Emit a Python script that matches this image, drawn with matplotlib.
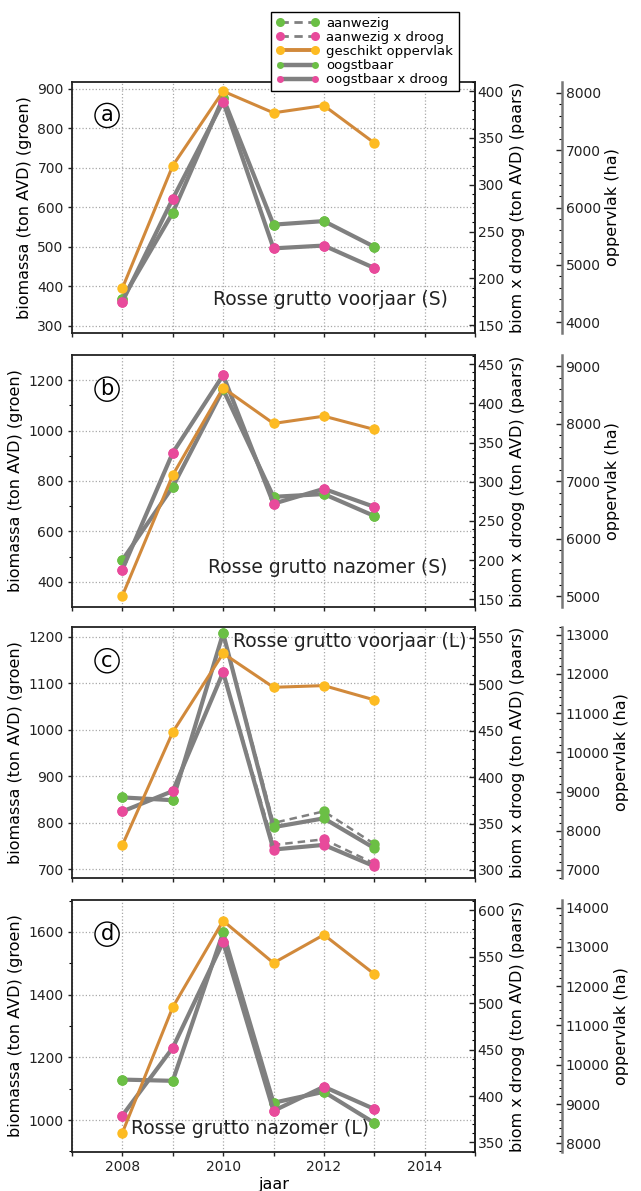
import numpy as np
import matplotlib.pyplot as plt
from matplotlib.lines import Line2D
from matplotlib.ticker import MultipleLocator, FuncFormatter

plt.rcParams['font.family'] = ['DejaVu Sans']

# 1. Gegevens
jaren = [2008, 2009, 2010, 2011, 2012, 2013]

# (a) Rosse grutto voorjaar (S)
opp_a = [4594, 6730, 8028, 7651, 7778, 7127]
aanw_a = [368, 586, 877, 556, 565, 500]
oogst_a = [368, 586, 877, 556, 565, 500]
aanw_droog_a = [175, 285, 389, 232, 235, 211]
oogst_droog_a = [175, 285, 389, 232, 235, 211]

# (b) Rosse grutto nazomer (S)
opp_b = [5005, 7104, 8623, 8003, 8130, 7899]
aanw_b = [486, 777, 1163, 737, 748, 661]
oogst_b = [486, 777, 1163, 737, 748, 661]
aanw_droog_b = [188, 337, 436, 272, 291, 268]
oogst_droog_b = [188, 337, 436, 272, 291, 268]

# (c) Rosse grutto voorjaar (L)
opp_c = [7635, 10516, 12525, 11660, 11703, 11339]
aanw_c = [854, 848, 1207, 799, 824, 754]
oogst_c = [854, 848, 1207, 790, 809, 745]
aanw_droog_c = [363, 385, 513, 327, 333, 307]
oogst_droog_c = [363, 385, 513, 322, 327, 304]

# (d) Rosse grutto nazomer (L)
opp_d = [8270, 11465, 13663, 12590, 13308, 12310]
aanw_d = [1129, 1125, 1598, 1055, 1090, 991]
oogst_d = [1129, 1125, 1598, 1055, 1090, 991]
aanw_droog_d = [379, 452, 566, 384, 410, 386]
oogst_droog_d = [379, 452, 566, 384, 410, 386]

titels = ['Rosse grutto voorjaar (S)', 'Rosse grutto nazomer (S)',
          'Rosse grutto voorjaar (L)', 'Rosse grutto nazomer (L)']
letters = ['a', 'b', 'c', 'd']

# 2. Stijl
GROEN = '#6bbf45'
ROZE = '#e84a9b'
GEEL = '#fdbb22'
ORANJE = '#d1893b'
GRIJS = '#808080'
STREEP = (0, (3, 2))

panelen = [
    dict(opp=opp_a, aanw=aanw_a, oogst=oogst_a, aanw_d=aanw_droog_a, oogst_d=oogst_droog_a,
         yl=(282, 918), yr=(141.5, 410.4), yo=(3813, 8197), stap=100, minor=None,
         tpos=(0.932, 0.134, 'right')),
    dict(opp=opp_b, aanw=aanw_b, oogst=oogst_b, aanw_d=aanw_droog_b, oogst_d=oogst_droog_b,
         yl=(301, 1299), yr=(140.6, 461.5), yo=(4814, 9191), stap=200, minor=100,
         tpos=(0.932, 0.155, 'right')),
    dict(opp=opp_c, aanw=aanw_c, oogst=oogst_c, aanw_d=aanw_droog_c, oogst_d=oogst_droog_c,
         yl=(680, 1221), yr=(291, 562), yo=(6788, 13203), stap=100, minor=None,
         tpos=(0.979, 0.94, 'right')),
    dict(opp=opp_d, aanw=aanw_d, oogst=oogst_d, aanw_d=aanw_droog_d, oogst_d=oogst_droog_d,
         yl=(899, 1701), yr=(340, 611), yo=(7788, 14188), stap=200, minor=100,
         tpos=(0.146, 0.093, 'left')),
]

# 3. Figuur
W, H = 641, 1191
fig = plt.figure(figsize=(W / 100, H / 100), dpi=100)
onderkant = [333, 606.7, 878.3, 1151.7]
hoogte = 251.5

for i, p in enumerate(panelen):
    ax = fig.add_axes([72 / W, 1 - onderkant[i] / H, 403 / W, hoogte / H])
    ax2 = ax.twinx()
    ax3 = ax.twinx()
    ax3.spines['right'].set_position(('axes', 1.216))

    # groen (links)
    ax.plot(jaren, p['aanw'], color=GRIJS, lw=1.8, ls=STREEP, marker='o', ms=7.5,
            mfc=GROEN, mec='none')
    ax.plot(jaren, p['oogst'], color=GRIJS, lw=3, marker='o', ms=7.5,
            mfc=GROEN, mec='none')
    # paars (rechts)
    ax2.plot(jaren, p['aanw_d'], color=GRIJS, lw=1.8, ls=STREEP, marker='o', ms=7.5,
             mfc=ROZE, mec='none')
    ax2.plot(jaren, p['oogst_d'], color=GRIJS, lw=3, marker='o', ms=7.5,
             mfc=ROZE, mec='none')
    # oppervlak
    ax3.plot(jaren, p['opp'], color=ORANJE, lw=2.2, marker='o', ms=7.5,
             mfc=GEEL, mec='none')

    ax.set_xlim(2007, 2015)
    ax.set_ylim(*p['yl'])
    ax2.set_ylim(*p['yr'])
    ax3.set_ylim(*p['yo'])

    ax.xaxis.set_major_locator(MultipleLocator(1))
    ax.xaxis.set_major_formatter(FuncFormatter(
        lambda v, pos: f'{int(round(v))}' if int(round(v)) % 2 == 0 else ''))
    ax.yaxis.set_major_locator(MultipleLocator(p['stap']))
    if p['minor']:
        ax.yaxis.set_minor_locator(MultipleLocator(p['minor']))
    ax2.yaxis.set_major_locator(MultipleLocator(50))
    ax2.yaxis.set_minor_locator(MultipleLocator(10))
    ax3.yaxis.set_major_locator(MultipleLocator(1000))
    ax3.yaxis.set_minor_locator(MultipleLocator(200))

    ax.grid(True, which='major', ls=':', color='#a8a8a8', lw=0.9)

    ax.tick_params(axis='both', which='major', direction='out', length=3, width=1,
                   labelsize=10, pad=3, colors='#222222')
    ax.tick_params(axis='y', which='minor', direction='out', length=2, width=0.8)
    ax2.tick_params(axis='y', which='major', direction='in', length=4, width=1,
                    labelsize=10, pad=2, colors='#222222')
    ax2.tick_params(axis='y', which='minor', direction='in', length=2.2, width=0.8)
    ax3.tick_params(axis='y', which='major', direction='in', length=4, width=1,
                    labelsize=10, pad=2.5, colors='#222222')
    ax3.tick_params(axis='y', which='minor', direction='in', length=2.2, width=0.8)

    for s in ax.spines.values():
        s.set_linewidth(1.3)
        s.set_color('#222222')
    for k in ['left', 'top', 'bottom']:
        ax2.spines[k].set_visible(False)
        ax3.spines[k].set_visible(False)
    ax2.spines['right'].set_linewidth(1.3)
    ax2.spines['right'].set_color('#222222')
    ax3.spines['right'].set_linewidth(1.8)
    ax3.spines['right'].set_color('#777777')

    if i < 3:
        ax.tick_params(axis='x', labelbottom=False)
    else:
        ax.set_xlabel('jaar', fontsize=11.5, labelpad=2)

    ax.set_ylabel('biomassa (ton AVD) (groen)', fontsize=11.5, labelpad=4)
    ax2.set_ylabel('biom x droog (ton AVD) (paars)', fontsize=11.5, labelpad=4)
    ax3.set_ylabel('oppervlak (ha)', fontsize=11.5, labelpad=3)

    ax3.text(0.087, 0.865, letters[i], transform=ax.transAxes, fontsize=15,
             ha='center', va='center',
             bbox=dict(boxstyle='circle,pad=0.1', fc='white', ec='black', lw=1))
    tx, ty, tha = p['tpos']
    ax3.text(tx, ty, titels[i], transform=ax.transAxes, fontsize=13.5,
             ha=tha, va='center', color='#222222')

# 4. Legenda
handles = [
    Line2D([0], [0], color=GRIJS, lw=2, ls=STREEP, marker='o', ms=6.5, mfc=GROEN, mec='none'),
    Line2D([0], [0], color=GRIJS, lw=2, ls=STREEP, marker='o', ms=6.5, mfc=ROZE, mec='none'),
    Line2D([0], [0], color=ORANJE, lw=2.8, marker='o', ms=6.5, mfc=GEEL, mec='none'),
    Line2D([0], [0], color=GRIJS, lw=3.2, marker='o', ms=5, mfc=GROEN, mec='none'),
    Line2D([0], [0], color=GRIJS, lw=3.2, marker='o', ms=5, mfc=ROZE, mec='none'),
]
labels = ['aanwezig', 'aanwezig x droog', 'geschikt oppervlak', 'oogstbaar', 'oogstbaar x droog']
leg = fig.legend(handles, labels, loc='upper left', bbox_to_anchor=(271 / W, 1 - 11.7 / H),
                 fontsize=9.5, numpoints=2, handlelength=3.2, handletextpad=0.6,
                 labelspacing=0.08, borderpad=0.4, borderaxespad=0,
                 frameon=True, fancybox=False, framealpha=1, edgecolor='black')
leg.get_frame().set_linewidth(1)
leg.set_zorder(10)

fig.savefig('out.png', dpi=100)
